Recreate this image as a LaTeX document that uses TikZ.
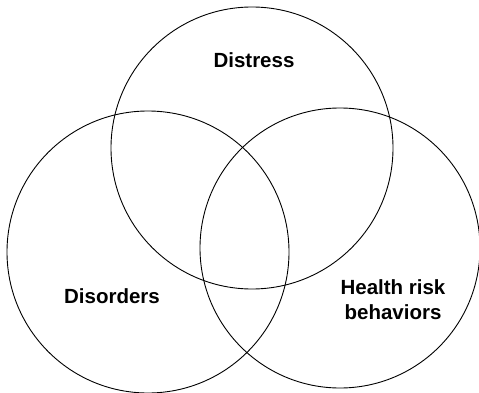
\documentclass[tikz,border=0pt]{standalone}
\usepackage{fontspec}
\setmainfont{Liberation Sans}
\begin{document}
\begin{tikzpicture}[
    x=1pt, y=-1pt,
    font=\fontsize{20.5}{25}\selectfont\bfseries,
    ring/.style={draw, line width=0.9pt},
    tag/.style={align=center, inner sep=0pt}
]

\def\rad{141}

\useasboundingbox (0,0) rectangle (479,393);

% Circulos
\draw[ring] (252,148) circle (\rad);
\draw[ring] (148,252) circle (\rad);
\draw[ring] (340,248) circle (140);

% Rotulos
\node[tag] (distress) at (254,60) {Distress};
\node[tag] (disorders) at (112,296) {Disorders};
\node[tag] (health) at (393,300) {Health risk\\behaviors};

\end{tikzpicture}
\end{document}
